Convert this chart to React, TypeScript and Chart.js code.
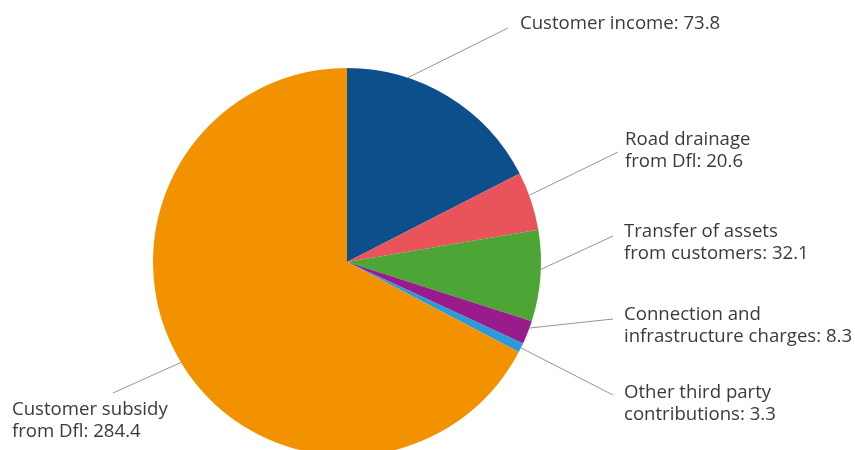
import React, { useEffect, useRef } from "react";
import { Chart, registerables } from "chart.js";

Chart.register(...registerables);

const categories = [
  "Customer income",
  "Road drainage from Dfl",
  "Transfer of assets from customers",
  "Connection and infrastructure charges",
  "Other third party contributions",
  "Customer subsidy from Dfl",
];
const values = [73.8, 20.6, 32.1, 8.3, 3.3, 284.4];
const labelLines = [
  ["Customer income: 73.8"],
  ["Road drainage", "from Dfl: 20.6"],
  ["Transfer of assets", "from customers: 32.1"],
  ["Connection and", "infrastructure charges: 8.3"],
  ["Other third party", "contributions: 3.3"],
  ["Customer subsidy", "from Dfl: 284.4"],
];
const colors = ["#0D4F8B", "#E9545A", "#4CA535", "#9A1B8C", "#2A9BD8", "#F39200"];

// layout of the callouts: text x, first baseline y, leader end, anchor fraction within slice
const calloutLayout = [
  { tx: 520, ty: 29, ex: 508, ey: 28, frac: 0.29 },
  { tx: 625, ty: 145, ex: 618, ey: 152, frac: 0.4 },
  { tx: 624, ty: 237, ex: 613, ey: 236, frac: 0.43 },
  { tx: 624, ty: 320, ex: 613, ey: 319, frac: 0.3 },
  { tx: 624, ty: 398, ex: 613, ey: 395, frac: 0.5 },
  { tx: 12, ty: 415, ex: 113, ey: 393, frac: 0.5 },
];

const FONT = '18.6px "Open Sans"';
const LINE_H = 22;

const calloutPlugin = {
  id: "callouts",
  afterDraw(chart: any) {
    const ctx = chart.ctx;
    const meta = chart.getDatasetMeta(0);
    ctx.save();
    meta.data.forEach((arc: any, i: number) => {
      const p = arc.getProps(["x", "y", "startAngle", "endAngle", "outerRadius"], true);
      const L = calloutLayout[i];
      const a = p.startAngle + L.frac * (p.endAngle - p.startAngle);
      const sx = p.x + p.outerRadius * Math.cos(a);
      const sy = p.y + p.outerRadius * Math.sin(a);
      ctx.strokeStyle = "#959595";
      ctx.lineWidth = 1;
      ctx.beginPath();
      ctx.moveTo(sx, sy);
      ctx.lineTo(L.ex, L.ey);
      ctx.stroke();
      ctx.fillStyle = "#3a3a3a";
      ctx.font = FONT;
      ctx.textAlign = "left";
      ctx.textBaseline = "alphabetic";
      labelLines[i].forEach((t, j) => ctx.fillText(t, L.tx, L.ty + j * LINE_H));
    });
    ctx.restore();
  },
};

export default function App() {
  const ref = useRef<HTMLCanvasElement>(null);
  useEffect(() => {
    if (!ref.current) return;
    const chart = new Chart(ref.current, {
      type: "pie",
      data: {
        labels: categories,
        datasets: [
          {
            data: values,
            backgroundColor: colors,
            borderWidth: 0,
          },
        ],
      },
      options: {
        responsive: false,
        animation: false,
        layout: { padding: { left: 153, right: 314, top: 68, bottom: 14 } },
        plugins: {
          legend: { display: false },
          tooltip: { enabled: false },
        },
      },
      plugins: [calloutPlugin],
    });
    return () => chart.destroy();
  }, []);
  return (
    <div
      style={{
        position: "fixed",
        left: 0,
        top: 0,
        width: 855,
        height: 450,
        overflow: "hidden",
        background: "#fff",
      }}
    >
      <canvas ref={ref} width={855} height={470} style={{ width: 855, height: 470, display: "block" }} />
    </div>
  );
}
